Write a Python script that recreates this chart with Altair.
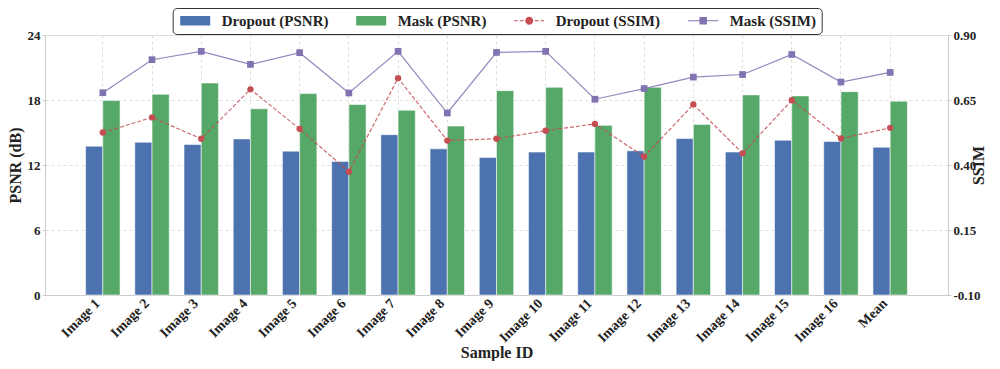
import altair as alt
import pandas as pd

FONT = "Liberation Serif"

images = ["Image 1", "Image 2", "Image 3", "Image 4", "Image 5", "Image 6",
          "Image 7", "Image 8", "Image 9", "Image 10", "Image 11", "Image 12",
          "Image 13", "Image 14", "Image 15", "Image 16", "Mean"]

dropout_psnr = [13.74, 14.10, 13.89, 14.41, 13.28, 12.33, 14.80, 13.49, 12.70,
                13.19, 13.20, 13.31, 14.44, 13.20, 14.29, 14.17, 13.64]
mask_psnr = [17.95, 18.53, 19.57, 17.19, 18.59, 17.58, 17.06, 15.60, 18.86,
             19.17, 15.66, 19.17, 15.75, 18.47, 18.38, 18.77, 17.89]
dropout_ssim = [0.525, 0.583, 0.501, 0.691, 0.539, 0.374, 0.734, 0.494, 0.501,
                0.532, 0.558, 0.432, 0.633, 0.445, 0.649, 0.502, 0.543]
mask_ssim = [0.678, 0.805, 0.837, 0.787, 0.832, 0.677, 0.837, 0.600, 0.833,
             0.837, 0.653, 0.694, 0.738, 0.748, 0.825, 0.719, 0.756]

series_names = ["Dropout (PSNR)", "Mask (PSNR)", "Dropout (SSIM)", "Mask (SSIM)"]
series_colors = ["#4C72B0", "#55A868", "#C44E52", "#8172B2"]

psnr_ticks = [0, 6, 12, 18, 24]
ssim_ticks = [-0.10, 0.15, 0.40, 0.65, 0.90]

# legend glyphs (unit = sqrt(symbolSize)/2 px)
patch_path = "M-1,-0.95H5V0.95H-1Z"
red_path = ("M-1,-0.12H-0.3V0.12H-1Z M0.1,-0.12H0.9V0.12H0.1Z "
            "M3.1,-0.12H3.9V0.12H3.1Z M4.3,-0.12H5V0.12H4.3Z "
            "M1.2,0A0.8,0.8 0 1,1 2.8,0A0.8,0.8 0 1,1 1.2,0Z")
purple_path = "M-1,-0.12H5V0.12H-1Z M1.25,-0.75H2.75V0.75H1.25Z"
legend_paths = [patch_path, patch_path, red_path, purple_path]

bar_df = pd.DataFrame({
    "image": images + images,
    "series": [series_names[0]] * len(images) + [series_names[1]] * len(images),
    "value": dropout_psnr + mask_psnr,
    "hex": [series_colors[0]] * len(images) + [series_colors[1]] * len(images),
})
ssim_df = pd.DataFrame({
    "image": images + images,
    "series": [series_names[2]] * len(images) + [series_names[3]] * len(images),
    "value": dropout_ssim + mask_ssim,
})

axis_common = dict(labelFont=FONT, titleFont=FONT,
                   labelFontWeight="bold", titleFontSize=16,
                   titleFontWeight="bold", labelColor="#222222",
                   titleColor="#222222", domainColor="#cccccc")

x_enc = alt.X(
    "image:N", sort=images, title="Sample ID",
    scale=alt.Scale(paddingInner=0.3, paddingOuter=0.825),
    axis=alt.Axis(labelAngle=-45, labelAlign="right", labelBaseline="middle",
                  labelOffset=-5, ticks=False, grid=True, gridDash=[3, 3],
                  gridColor="#dddddd", labelPadding=6, titlePadding=0,
                  labelFontSize=14, **axis_common),
)

y_left = alt.Y(
    "value:Q", scale=alt.Scale(domain=[0, 24], nice=False, zero=False),
    axis=alt.Axis(values=psnr_ticks, format="d", title="PSNR (dB)", orient="left",
                  grid=True, gridDash=[3, 3], gridColor="#dddddd", tickSize=3,
                  tickColor="#cccccc", labelPadding=2, titlePadding=4,
                  labelFontSize=13, **axis_common),
)

y_right = alt.Y(
    "value:Q", scale=alt.Scale(domain=[-0.1, 0.9], nice=False, zero=False),
    axis=alt.Axis(values=ssim_ticks, title="SSIM", orient="right", grid=False,
                  tickSize=3, tickColor="#cccccc", labelPadding=2,
                  titlePadding=6, titleAngle=270, labelFontSize=13,
                  labelExpr="datum.value < 0 ? '-' + format(-datum.value, '.2f') : format(datum.value, '.2f')",
                  **axis_common),
)

bars = alt.Chart(bar_df).mark_bar(stroke="white", strokeWidth=0.8, strokeOpacity=0.7).encode(
    x=x_enc,
    xOffset=alt.XOffset("series:N", sort=series_names[:2],
                        scale=alt.Scale(paddingInner=0, paddingOuter=0)),
    y=y_left,
    color=alt.Color("hex:N", scale=None),
)

red_line = alt.Chart(ssim_df).transform_filter(
    alt.datum.series == series_names[2]
).mark_line(color=series_colors[2], strokeDash=[4, 2], strokeWidth=1.2, opacity=0.85).encode(
    x=x_enc, y=y_right
)
purple_line = alt.Chart(ssim_df).transform_filter(
    alt.datum.series == series_names[3]
).mark_line(color=series_colors[3], strokeWidth=1.2, opacity=0.85).encode(
    x=x_enc, y=y_right
)
red_pts = alt.Chart(ssim_df).transform_filter(
    alt.datum.series == series_names[2]
).mark_point(shape="circle", filled=True, size=40, color=series_colors[2], opacity=1).encode(
    x=x_enc, y=y_right
)
purple_pts = alt.Chart(ssim_df).transform_filter(
    alt.datum.series == series_names[3]
).mark_point(shape="square", filled=True, size=45, color=series_colors[3], opacity=1).encode(
    x=x_enc, y=y_right
)

legend = alt.Legend(
    orient="none", legendX=127.7, legendY=-27, direction="horizontal", columns=4,
    title=None, symbolSize=100, symbolStrokeWidth=0, labelOffset=29,
    columnPadding=25, padding=5, strokeColor="#333333", cornerRadius=4,
    fillColor="white", labelFont=FONT, labelFontSize=15, labelFontWeight="bold",
    labelColor="#222222", labelLimit=300, symbolOpacity=1,
)

legend_layer = alt.Chart(ssim_df).transform_filter("false").mark_point(
    filled=True, opacity=1
).encode(
    color=alt.Color("series:N", scale=alt.Scale(domain=series_names, range=series_colors),
                    legend=legend),
    shape=alt.Shape("series:N", scale=alt.Scale(domain=series_names, range=legend_paths),
                    legend=legend),
)

right = alt.layer(red_line, purple_line, red_pts, purple_pts, legend_layer)

chart = alt.layer(bars, right).resolve_scale(y="independent").properties(
    width=903, height=260,
    padding={"left": 37, "top": 27, "right": 44, "bottom": 66},
    autosize=alt.AutoSizeParams(type="none"),
).configure_view(stroke="#cccccc", strokeWidth=1).configure(font=FONT)

chart.save("out.html", embed_options={"renderer": "svg", "actions": False})
